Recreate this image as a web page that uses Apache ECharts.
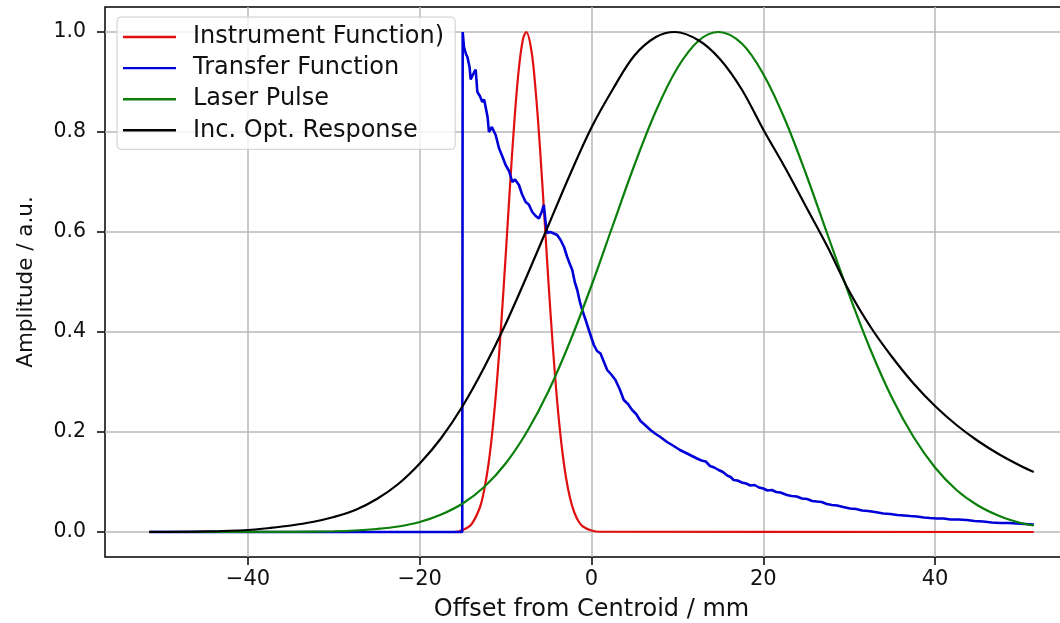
<!DOCTYPE html>
<html>
<head>
<meta charset="utf-8">
<script src="https://cdn.jsdelivr.net/npm/echarts@6/dist/echarts.min.js"></script>
<style>
html,body{margin:0;padding:0;background:#fff;}
#chart{width:1060px;height:623px;}
</style>
</head>
<body>
<div id="chart"></div>
<script>
// ---- data ----
const xTicks = [-40, -20, 0, 20, 40];
const yTicks = [0, 0.2, 0.4, 0.6, 0.8, 1.0];

const seriesNames = ['Instrument Function)', 'Transfer Function', 'Laser Pulse', 'Inc. Opt. Response'];

const redX = [-51.5, -16, -15, -14, -13, -12.5, -12, -11.5, -11, -10.5, -10, -9.5, -9, -8.5, -8, -7.6, -7, -6.5, -6, -5.5, -5, -4.5, -4, -3.5, -3, -2.5, -2, -1.5, -1, 0, 1, 51.5];
const redY = [0, 0, 0.004, 0.015, 0.049, 0.084, 0.135, 0.208, 0.303, 0.419, 0.551, 0.689, 0.817, 0.92, 0.984, 1.0, 0.963, 0.882, 0.768, 0.634, 0.497, 0.371, 0.262, 0.176, 0.112, 0.068, 0.039, 0.021, 0.011, 0.003, 0.0005, 0];

const blueX = [-51.5, -15.05, -15.0, -14.85, -14.6, -14.45, -14.2, -14.07, -13.8, -13.49, -13.29, -13.0, -12.71, -12.5, -12.33, -12.1, -11.94, -11.6, -11.16, -10.95, -10.78, -10.4, -10.0, -9.6, -9.22, -8.9, -8.45, -8.1, -7.67, -7.3, -6.9, -6.5, -6.13, -5.8, -5.55, -5.35, -5.15, -4.8, -4.38, -4.0, -3.6, -3.2, -2.83, -2.5, -2.24, -1.95, -1.66, -1.35, -1.08, -0.7, -0.31, 0.0, 0.27, 0.65, 1.05, 1.45, 1.83, 2.3, 2.79, 3.3, 3.76, 4.25, 4.73, 5.2, 5.7, 6.3, 6.86, 7.4, 8.02, 8.8, 9.57, 10.3, 11.13, 11.7, 12.29, 12.8, 13.3, 13.8, 14.3, 14.8, 15.3, 15.8, 16.2, 16.55, 17.0, 17.5, 18.0, 18.5, 19.0, 19.5, 20.0, 20.5, 21.0, 21.5, 22.0, 22.76, 23.3, 23.9, 24.5, 25.1, 25.7, 26.24, 26.8, 27.4, 28.0, 28.6, 29.3, 30.1, 30.8, 31.5, 32.2, 33.0, 33.99, 34.8, 35.6, 36.4, 37.1, 37.87, 38.7, 39.4, 40.2, 41.0, 41.8, 42.7, 43.7, 44.6, 45.6, 46.6, 47.56, 48.5, 49.5, 50.5, 51.5];
const blueY = [0, 0, 1.0, 0.97, 0.955, 0.95, 0.93, 0.905, 0.915, 0.925, 0.88, 0.872, 0.86, 0.865, 0.868, 0.83, 0.80, 0.81, 0.794, 0.78, 0.768, 0.752, 0.734, 0.722, 0.70, 0.705, 0.694, 0.676, 0.66, 0.655, 0.64, 0.632, 0.627, 0.64, 0.654, 0.62, 0.598, 0.6, 0.597, 0.594, 0.584, 0.57, 0.55, 0.535, 0.524, 0.5, 0.484, 0.46, 0.444, 0.425, 0.404, 0.388, 0.374, 0.362, 0.357, 0.34, 0.324, 0.315, 0.304, 0.285, 0.264, 0.256, 0.244, 0.236, 0.222, 0.213, 0.204, 0.197, 0.19, 0.18, 0.172, 0.164, 0.157, 0.152, 0.147, 0.143, 0.141, 0.132, 0.129, 0.124, 0.12, 0.113, 0.11, 0.104, 0.103, 0.099, 0.097, 0.093, 0.094, 0.089, 0.087, 0.083, 0.084, 0.08, 0.079, 0.074, 0.072, 0.071, 0.067, 0.066, 0.062, 0.061, 0.06, 0.056, 0.054, 0.053, 0.05, 0.047, 0.046, 0.043, 0.042, 0.04, 0.037, 0.036, 0.034, 0.033, 0.032, 0.031, 0.029, 0.028, 0.027, 0.027, 0.025, 0.025, 0.024, 0.022, 0.021, 0.019, 0.018, 0.018, 0.017, 0.016, 0.015];

const greenX = [-51.5, -45, -40, -35, -30, -27.5, -25, -22.5, -20, -17.5, -15, -12.5, -10, -7.5, -5, -2.5, 0, 2.5, 5, 7.5, 10, 12.5, 14.8, 17.5, 20, 22.5, 25, 27.5, 30, 32.5, 35, 37.5, 40, 42.5, 45, 47.5, 50, 51.5];
const greenY = [0, 0, 0.0001, 0.0003, 0.0015, 0.003, 0.006, 0.011, 0.02, 0.035, 0.057, 0.09, 0.137, 0.201, 0.282, 0.381, 0.493, 0.614, 0.734, 0.842, 0.928, 0.983, 1.0, 0.977, 0.916, 0.826, 0.715, 0.594, 0.475, 0.364, 0.268, 0.19, 0.129, 0.084, 0.053, 0.032, 0.018, 0.013];

const blackX = [-51.5, -45, -40, -37.5, -35, -32.5, -30, -27.5, -25, -22.5, -20, -17.5, -15, -12.5, -10, -7.5, -5, -2.5, 0, 2.5, 5, 7.5, 9.7, 12.5, 15, 17.5, 20, 22.5, 25, 27.5, 30, 32.5, 35, 37.5, 40, 42.5, 45, 47.5, 50, 51.5];
const blackY = [0.0002, 0.0012, 0.004, 0.008, 0.013, 0.02, 0.03, 0.044, 0.066, 0.096, 0.137, 0.188, 0.252, 0.329, 0.416, 0.513, 0.614, 0.715, 0.809, 0.886, 0.953, 0.99, 1.0, 0.983, 0.945, 0.885, 0.805, 0.73, 0.65, 0.57, 0.482, 0.41, 0.35, 0.297, 0.252, 0.214, 0.182, 0.155, 0.132, 0.12];

const colors = ['#e01010', '#0000d8', '#0a7f0a', '#000000'];

function pairs(xs, ys) { return xs.map((x, i) => [x, ys[i]]); }

const chart = echarts.init(document.getElementById('chart'), null, {renderer: 'canvas'});
const FONT = 'DejaVu Sans';
const lineSeries = (name, xs, ys, color, width, smooth) => ({
  name, type: 'line', data: pairs(xs, ys), showSymbol: false, symbol: 'none',
  smooth: smooth,
  lineStyle: {color, width}, itemStyle: {color}, animation: false, clip: true
});

chart.setOption({
  animation: false,
  grid: {left: 105, top: 7, width: 973, height: 550, outerBoundsMode: 'none', containLabel: false,
    show: true, borderColor: '#000', borderWidth: 1.5, backgroundColor: 'transparent'},
  legend: {
    orient: 'vertical', left: 117, top: 17,
    data: seriesNames,
    icon: 'rect', itemWidth: 53, itemHeight: 2.4, itemGap: 7.1,
    padding: [8, 11, 7, 6],
    backgroundColor: 'rgba(255,255,255,0.8)', borderColor: '#cccccc', borderWidth: 1, borderRadius: 4,
    textStyle: {fontFamily: FONT, fontSize: 24, color: '#111', lineHeight: 23, padding: [0, 0, 0, 12]},
    selectedMode: false
  },
  xAxis: {
    type: 'value', min: -56.65, max: 56.65,
    name: 'Offset from Centroid / mm', nameLocation: 'middle', nameGap: 41,
    nameTextStyle: {fontFamily: FONT, fontSize: 24, color: '#111'},
    axisLine: {show: false, onZero: false},
    axisTick: {show: true, inside: false, length: 8, lineStyle: {color: '#000', width: 1.5}, customValues: xTicks},
    axisLabel: {customValues: xTicks, margin: 12, fontFamily: FONT, fontSize: 21, color: '#111',
      formatter: v => (v < 0 ? '\u2212' + Math.abs(v) : String(v))},
    splitLine: {show: true, lineStyle: {color: '#b8b8b8', width: 1.5}}
  },
  yAxis: {
    type: 'value', min: -0.05, max: 1.05,
    name: 'Amplitude / a.u.', nameLocation: 'middle', nameGap: 68, nameRotate: 90,
    nameTextStyle: {fontFamily: FONT, fontSize: 21.5, color: '#111'},
    axisLine: {show: false, onZero: false},
    axisTick: {show: true, inside: false, length: 8, lineStyle: {color: '#000', width: 1.5}, customValues: yTicks},
    axisLabel: {customValues: yTicks, margin: 19, fontFamily: FONT, fontSize: 20.5, color: '#111',
      formatter: v => v.toFixed(1)},
    splitLine: {show: true, lineStyle: {color: '#b8b8b8', width: 1.5}}
  },
  series: [
    lineSeries(seriesNames[0], redX, redY, colors[0], 2.2, 0.35),
    lineSeries(seriesNames[1], blueX, blueY, colors[1], 2.6, false),
    lineSeries(seriesNames[2], greenX, greenY, colors[2], 2.2, 0.35),
    lineSeries(seriesNames[3], blackX, blackY, colors[3], 2.2, 0.35)
  ]
});
</script>
</body>
</html>
